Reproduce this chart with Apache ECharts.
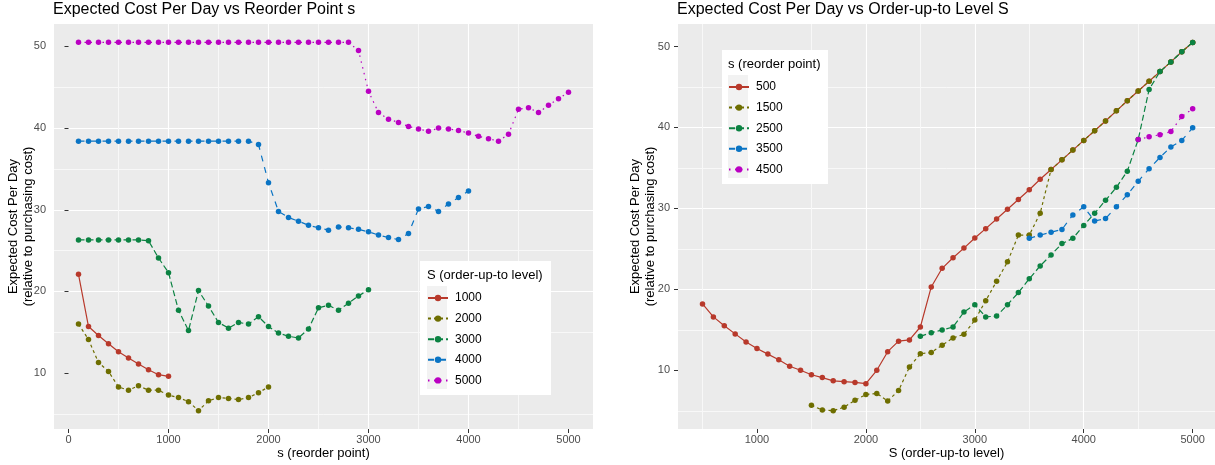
<!DOCTYPE html>
<html><head><meta charset="utf-8">
<script src="https://cdn.jsdelivr.net/npm/echarts@6/dist/echarts.min.js"></script>
<style>html,body{margin:0;padding:0;background:#fff}#c{width:1215px;height:465px}</style>
</head><body><div id="c"></div><script>
// ---------- Left panel: cost vs reorder point s, one line per S ----------
const leftNames = ['1000', '2000', '3000', '4000', '5000'];
const sFor1000 = [100,200,300,400,500,600,700,800,900,1000];
const cost1000 = [22.1,15.7,14.6,13.6,12.6,11.85,11.1,10.4,9.8,9.6];
const sFor2000 = [100,200,300,400,500,600,700,800,900,1000,1100,1200,1300,1400,1500,1600,1700,1800,1900,2000];
const cost2000 = [16.0,14.1,11.3,10.2,8.3,7.9,8.45,7.9,7.9,7.3,7.0,6.5,5.4,6.6,7.0,6.9,6.75,7.0,7.6,8.3];
const sFor3000 = [100,200,300,400,500,600,700,800,900,1000,1100,1200,1300,1400,1500,1600,1700,1800,1900,2000,
                  2100,2200,2300,2400,2500,2600,2700,2800,2900,3000];
const cost3000 = [26.3,26.3,26.3,26.3,26.3,26.3,26.3,26.2,24.1,22.3,17.7,15.2,20.1,18.2,16.2,15.5,16.2,16.0,16.9,15.7,
                  14.9,14.5,14.3,15.4,18.0,18.3,17.7,18.55,19.45,20.2];
const sFor4000 = [100,200,300,400,500,600,700,800,900,1000,1100,1200,1300,1400,1500,1600,1700,1800,1900,2000,
                  2100,2200,2300,2400,2500,2600,2700,2800,2900,3000,3100,3200,3300,3400,3500,3600,3700,3800,3900,4000];
const cost4000 = [38.4,38.4,38.4,38.4,38.4,38.4,38.4,38.4,38.4,38.4,38.4,38.4,38.4,38.4,38.4,38.4,38.4,38.4,38.0,33.3,
                  29.8,29.05,28.6,28.1,27.8,27.5,27.9,27.8,27.6,27.3,26.9,26.6,26.35,27.1,30.1,30.4,29.8,30.7,31.5,32.3];
const sFor5000 = [100,200,300,400,500,600,700,800,900,1000,1100,1200,1300,1400,1500,1600,1700,1800,1900,2000,
                  2100,2200,2300,2400,2500,2600,2700,2800,2900,3000,3100,3200,3300,3400,3500,3600,3700,3800,3900,4000,
                  4100,4200,4300,4400,4500,4600,4700,4800,4900,5000];
const cost5000 = [50.5,50.5,50.5,50.5,50.5,50.5,50.5,50.5,50.5,50.5,50.5,50.5,50.5,50.5,50.5,50.5,50.5,50.5,50.5,50.5,
                  50.5,50.5,50.5,50.5,50.5,50.5,50.5,50.5,49.5,44.5,41.9,41.1,40.7,40.2,39.9,39.6,40.0,39.9,39.7,39.4,
                  39.0,38.7,38.4,39.25,42.3,42.5,41.9,42.8,43.6,44.4];

// ---------- Right panel: cost vs order-up-to level S, one line per s ----------
const rightNames = ['500', '1500', '2500', '3500', '4500'];
const SFor500 = [500,600,700,800,900,1000,1100,1200,1300,1400,1500,1600,1700,1800,1900,2000,
                 2100,2200,2300,2400,2500,2600,2700,2800,2900,3000,3100,3200,3300,3400,3500,3600,3700,3800,3900,4000,
                 4100,4200,4300,4400,4500,4600,4700,4800,4900,5000];
const costS500 = [18.2,16.6,15.5,14.5,13.5,12.7,12.0,11.3,10.5,10.0,9.45,9.1,8.7,8.6,8.5,8.35,
                  10.0,12.3,13.6,13.75,15.35,20.3,22.6,23.9,25.1,26.35,27.5,28.7,29.9,31.1,32.3,33.6,34.8,36.0,37.2,38.4,
                  39.6,40.8,42.05,43.3,44.5,45.7,46.9,48.1,49.35,50.5];
const SFor1500 = [1500,1600,1700,1800,1900,2000,2100,2200,2300,2400,2500,2600,2700,2800,2900,3000,3100,3200,3300,3400,
                  3500,3600,3700,3800,3900,4000,4100,4200,4300,4400,4500,4600,4700,4800,4900,5000];
const costS1500 = [5.67,5.1,5.0,5.45,6.3,7.0,7.15,6.2,7.5,10.4,12.05,12.2,13.1,14.0,14.45,16.2,18.6,21.0,23.4,26.7,
                   26.7,29.4,34.8,36.0,37.2,38.4,39.6,40.8,42.05,43.3,44.5,45.7,46.9,48.1,49.35,50.5];
const SFor2500 = [2500,2600,2700,2800,2900,3000,3100,3200,3300,3400,3500,3600,3700,3800,3900,4000,4100,4200,4300,4400,
                  4500,4600,4700,4800,4900,5000];
const costS2500 = [14.2,14.65,14.98,15.35,17.2,18.1,16.6,16.7,18.1,19.6,21.3,22.9,24.25,25.65,26.3,27.9,29.4,31.0,32.6,34.6,
                   38.5,44.7,46.9,48.1,49.35,50.5];
const SFor3500 = [3500,3600,3700,3800,3900,4000,4100,4200,4300,4400,4500,4600,4700,4800,4900,5000];
const costS3500 = [26.3,26.7,27.05,27.4,29.2,30.2,28.45,28.75,30.2,31.7,33.35,34.9,36.3,37.6,38.4,39.95];
const SFor4500 = [4500,4600,4700,4800,4900,5000];
const costS4500 = [38.5,38.85,39.1,39.5,41.35,42.3];

// tick labels
const leftXTicks = [0,1000,2000,3000,4000,5000];
const rightXTicks = [1000,2000,3000,4000,5000];
const yTicks = [10,20,30,40,50];

const colors = ['#B8392B', '#6E6E00', '#0B8242', '#0A74C4', '#BA00C2'];
const dashes = ['solid', [3,3], [6,3], [6,6], [1.5,4.5]];
const FONT = '"Liberation Sans", Arial, sans-serif';

function mk(name, xs, ys, i, axis) {
  return {
    type: 'line', name: name, xAxisIndex: axis, yAxisIndex: axis,
    data: xs.map((x, k) => [x, ys[k]]),
    symbol: 'circle', symbolSize: 5.5, showSymbol: true,
    lineStyle: { color: colors[i], width: 1.2, type: dashes[i] },
    itemStyle: { color: colors[i] },
    emphasis: { disabled: true }, animation: false, z: 2 + i * 0.01
  };
}

const plain = v => String(v);

function xAxis(grid, min, max, ticks, name) {
  return {
    type: 'value', gridIndex: grid, min: min, max: max,
    axisLine: { show: false },
    axisTick: { show: true, length: 4, lineStyle: { color: '#333333' }, customValues: ticks },
    axisLabel: { color: '#4D4D4D', fontSize: 11, fontFamily: FONT, margin: 5, customValues: ticks, formatter: plain },
    splitLine: { show: true, lineStyle: { color: '#ffffff', width: 1.1 }, showMinLine: false, showMaxLine: false },
    minorTick: { show: false, splitNumber: 2 },
    minorSplitLine: { show: true, lineStyle: { color: '#F8F8F8', width: 1 } },
    name: name, nameLocation: 'middle', nameGap: 18, nameMoveOverlap: false,
    nameTextStyle: { color: '#000', fontSize: 13, fontFamily: FONT }
  };
}
function yAxis(grid, min, max, gap) {
  return {
    type: 'value', gridIndex: grid, min: min, max: max,
    axisLine: { show: false },
    axisTick: { show: true, length: 4, lineStyle: { color: '#333333' }, customValues: yTicks },
    axisLabel: { color: '#4D4D4D', fontSize: 11, fontFamily: FONT, margin: 8, customValues: yTicks, formatter: plain },
    splitLine: { show: true, lineStyle: { color: '#ffffff', width: 1.1 }, showMinLine: false, showMaxLine: false },
    minorTick: { show: false, splitNumber: 2 },
    minorSplitLine: { show: true, lineStyle: { color: '#F8F8F8', width: 1 } },
    name: 'Expected Cost Per Day\n(relative to purchasing cost)', nameLocation: 'middle', nameGap: gap,
    nameMoveOverlap: false,
    nameTextStyle: { color: '#000', fontSize: 13, fontFamily: FONT, lineHeight: 15, align: 'center' }
  };
}

function legend(names, left, top, pad) {
  return {
    data: names, orient: 'vertical', left: left, top: top, padding: pad,
    itemWidth: 20, itemHeight: 8, itemGap: 8.6, z: 5,
    textStyle: { fontSize: 12, fontFamily: FONT, color: '#000', padding: [0, 0, 0, 2] },
    selectedMode: false
  };
}

const chart = echarts.init(document.getElementById('c'), null, { renderer: 'canvas' });
const series = [
  mk(leftNames[0], sFor1000, cost1000, 0, 0),
  mk(leftNames[1], sFor2000, cost2000, 1, 0),
  mk(leftNames[2], sFor3000, cost3000, 2, 0),
  mk(leftNames[3], sFor4000, cost4000, 3, 0),
  mk(leftNames[4], sFor5000, cost5000, 4, 0),
  mk(rightNames[0], SFor500, costS500, 0, 1),
  mk(rightNames[1], SFor1500, costS1500, 1, 1),
  mk(rightNames[2], SFor2500, costS2500, 2, 1),
  mk(rightNames[3], SFor3500, costS3500, 3, 1),
  mk(rightNames[4], SFor4500, costS4500, 4, 1)
];

chart.setOption({
  animation: false,
  backgroundColor: '#ffffff',
  title: [
    { text: 'Expected Cost Per Day vs Reorder Point s', left: 53, top: 2, padding: 0,
      textStyle: { fontSize: 16, fontWeight: 'normal', color: '#000', fontFamily: FONT } },
    { text: 'Expected Cost Per Day vs Order-up-to Level S', left: 677, top: 2, padding: 0,
      textStyle: { fontSize: 16, fontWeight: 'normal', color: '#000', fontFamily: FONT } },
    { text: 'S (order-up-to level)', left: 427, top: 269, padding: 0, z: 10,
      textStyle: { fontSize: 13, fontWeight: 'normal', color: '#000', fontFamily: FONT } },
    { text: 's (reorder point)', left: 728, top: 58, padding: 0, z: 10,
      textStyle: { fontSize: 13, fontWeight: 'normal', color: '#000', fontFamily: FONT } }
  ],
  // legend boxes (white) with the light-grey key column, as in ggplot's legend
  graphic: [
    { type: 'rect', z: 3, shape: { x: 420, y: 261, width: 131, height: 134 }, style: { fill: '#ffffff' } },
    { type: 'rect', z: 3, shape: { x: 427, y: 286, width: 20, height: 103 }, style: { fill: '#F2F2F2' } },
    { type: 'rect', z: 3, shape: { x: 722, y: 50, width: 106, height: 134 }, style: { fill: '#ffffff' } },
    { type: 'rect', z: 3, shape: { x: 728, y: 75, width: 20, height: 103 }, style: { fill: '#F2F2F2' } }
  ],
  grid: [
    { left: 54, top: 24, width: 539, height: 405, show: true, backgroundColor: '#EBEBEB', borderWidth: 0 },
    { left: 678, top: 24, right: 0, height: 405, show: true, backgroundColor: '#EBEBEB', borderWidth: 0 }
  ],
  xAxis: [
    xAxis(0, -145, 5245, leftXTicks, 's (reorder point)'),
    xAxis(1, 275, 5205, rightXTicks, 'S (order-up-to level)')
  ],
  yAxis: [
    yAxis(0, 3.15, 52.75, 18),
    yAxis(1, 2.75, 52.78, 20)
  ],
  legend: [
    legend(leftNames, 420, 261, [31, 70, 9, 7]),
    legend(rightNames, 722, 50, [31, 46, 9, 6])
  ],
  series: series
});
</script></body></html>
